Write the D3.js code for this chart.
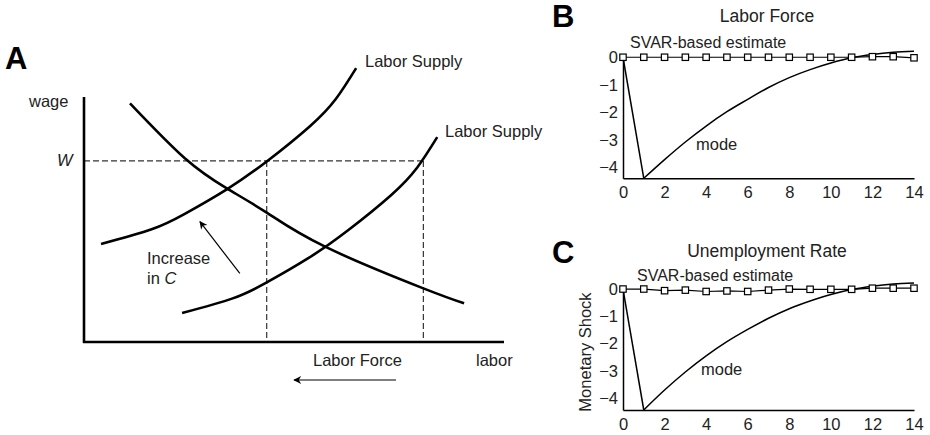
<!DOCTYPE html>
<html>
<head>
<meta charset="utf-8">
<script src="https://cdn.jsdelivr.net/npm/d3@7"></script>
<style>
  body { margin: 0; background: #fff; }
  svg { font-family: "Liberation Sans", Arial, sans-serif; }
</style>
</head>
<body>
<svg id="chart" width="930" height="435"></svg>
<script>
// Panel A: stylised labour market (units: labor 0-100, wage 0-100)
const supply1 = [[4.05, 40.0], [16.1, 46.0], [24.0, 52.3], [34.0, 62.3], [43.5, 73.7], [53.8, 88.1], [60.0, 99.3], [64.8, 111.8]];
const supply2 = [[23.35, 11.8], [35.4, 17.8], [43.3, 24.1], [53.3, 34.1], [62.8, 45.5], [73.1, 59.9], [79.3, 71.1], [84.1, 83.6]];
const demand = [[10.95, 97.4], [24.0, 75.0], [34.0, 62.7], [43.6, 52.7], [57.4, 38.9], [80.8, 21.9], [90.5, 15.8]];
const wageW = 73.9;
const laborAtW = [43.5, 80.8];

// Panels B and C: impulse responses, horizon 0..14
const horizon = d3.range(0, 15);
const modeLF = [0, -4.4, -3.72, -3.08, -2.5, -1.98, -1.53, -1.1, -0.74, -0.45, -0.21, -0.02, 0.1, 0.18, 0.22];
const svarLF = [0, 0, 0, 0, 0, 0, 0, 0, 0, 0, 0, 0, 0.02, 0.02, -0.02];
const modeUR = [0, -4.43, -3.7, -3.04, -2.45, -1.93, -1.48, -1.07, -0.72, -0.44, -0.2, -0.02, 0.1, 0.18, 0.22];
const svarUR = [0, 0, -0.06, -0.04, -0.09, -0.07, -0.09, -0.04, 0, -0.01, -0.01, -0.01, 0.03, 0.03, 0.03];
const xTicks = [0, 2, 4, 6, 8, 10, 12, 14];
const yTicks = [0, -1, -2, -3, -4];

const svg = d3.select('#chart');

svg.append('defs').append('marker')
  .attr('id', 'head')
  .attr('viewBox', '0 0 10 10')
  .attr('refX', 9).attr('refY', 5)
  .attr('markerWidth', 10).attr('markerHeight', 8)
  .attr('markerUnits', 'userSpaceOnUse')
  .attr('orient', 'auto')
  .append('path')
  .attr('d', 'M0,0 L10,5 L0,10 L3,5 Z')
  .attr('fill', '#000');

// ---------- Panel A ----------
const xA = d3.scaleLinear().domain([0, 100]).range([84, 504]);
const yA = d3.scaleLinear().domain([0, 100]).range([342, 97]);
const gA = svg.append('g');

const curveLine = d3.line()
  .x(d => xA(d[0]))
  .y(d => yA(d[1]))
  .curve(d3.curveNatural);

// dashed guides
gA.append('line')
  .attr('x1', xA(0)).attr('x2', xA(laborAtW[1]))
  .attr('y1', yA(wageW)).attr('y2', yA(wageW))
  .attr('stroke', '#333').attr('stroke-width', 1.2).attr('stroke-dasharray', '6,3');
gA.selectAll('.vdash')
  .data(laborAtW)
  .enter()
  .append('line')
  .attr('class', 'vdash')
  .attr('x1', d => xA(d)).attr('x2', d => xA(d))
  .attr('y1', yA(wageW)).attr('y2', yA(0))
  .attr('stroke', '#333').attr('stroke-width', 1.2).attr('stroke-dasharray', '6,3');

[supply1, supply2, demand].forEach(c => {
  gA.append('path')
    .attr('d', curveLine(c))
    .attr('fill', 'none')
    .attr('stroke', '#000')
    .attr('stroke-width', 2.6);
});

// axes
gA.append('line')
  .attr('x1', xA(0)).attr('x2', xA(0))
  .attr('y1', yA(100)).attr('y2', yA(0) + 1)
  .attr('stroke', '#000').attr('stroke-width', 2.6);
gA.append('line')
  .attr('x1', xA(0) - 1).attr('x2', xA(100))
  .attr('y1', yA(0)).attr('y2', yA(0))
  .attr('stroke', '#000').attr('stroke-width', 2.6);

// arrows
gA.append('line')
  .attr('x1', xA(37.1)).attr('y1', yA(28.0))
  .attr('x2', xA(27.6)).attr('y2', yA(49.1))
  .attr('stroke', '#000').attr('stroke-width', 1.2)
  .attr('marker-end', 'url(#head)');
gA.append('line')
  .attr('x1', xA(74.3)).attr('y1', yA(-15.5))
  .attr('x2', xA(50.0)).attr('y2', yA(-15.5))
  .attr('stroke', '#000').attr('stroke-width', 1.2)
  .attr('marker-end', 'url(#head)');

const txt = (g, x, y, s, size, opts = {}) => {
  const t = g.append('text')
    .attr('x', x).attr('y', y)
    .attr('font-size', size)
    .attr('fill', opts.fill || '#222')
    .attr('text-anchor', opts.anchor || 'start');
  if (opts.weight) t.attr('font-weight', opts.weight);
  if (opts.style) t.attr('font-style', opts.style);
  if (opts.transform) t.attr('transform', opts.transform);
  t.text(s);
  return t;
};

txt(svg, 5, 69, 'A', 31, { weight: 'bold', fill: '#000' });
txt(gA, 365, 67, 'Labor Supply', 16.5);
txt(gA, 445, 137, 'Labor Supply', 16.5);
txt(gA, 29, 107, 'wage', 16.5);
txt(gA, 57, 166, 'W', 16.5, { style: 'italic' });
txt(gA, 147, 264, 'Increase', 16.5);
const inC = txt(gA, 147, 284, 'in ', 16.5);
inC.append('tspan').attr('font-style', 'italic').text('C');
txt(gA, 313, 366, 'Labor Force', 16.5);
txt(gA, 476, 366, 'labor', 16.5);

// ---------- Panels B and C ----------
const x = d3.scaleLinear().domain([0, 14]).range([623, 914]);

function irfPanel(letter, title, mode, svar, yTop, yBottom, yMin, pos) {
  const y = d3.scaleLinear().domain([yMin, 0.1]).range([yBottom, yTop]);
  const g = svg.append('g');

  g.append('g')
    .attr('transform', `translate(0, ${yBottom})`)
    .call(d3.axisBottom(x).tickValues(xTicks).tickFormat(d3.format('d')).tickSize(0).tickPadding(8).tickSizeOuter(0))
    .call(a => a.selectAll('text').attr('font-size', 16.5).attr('fill', '#222').attr('font-family', null))
    .call(a => a.select('.domain').attr('stroke-width', 1.5));

  g.append('g')
    .attr('transform', `translate(${x(0)}, 0)`)
    .call(d3.axisLeft(y).tickValues(yTicks).tickFormat(d3.format('d')).tickSize(0).tickPadding(5).tickSizeOuter(0))
    .call(a => a.selectAll('text').attr('font-size', 16.5).attr('fill', '#222').attr('font-family', null))
    .call(a => a.select('.domain').attr('stroke-width', 1.5));

  const line = d3.line().x(d => x(d[0])).y(d => y(d[1]));
  const pts = horizon.map((h, i) => [h, mode[i]]);

  // jump on impact, then smooth recovery
  g.append('path')
    .attr('d', line(pts.slice(0, 2)))
    .attr('fill', 'none').attr('stroke', '#000').attr('stroke-width', 1.5);
  g.append('path')
    .attr('d', line.curve(d3.curveMonotoneX)(pts.slice(1)))
    .attr('fill', 'none').attr('stroke', '#000').attr('stroke-width', 1.5);

  const svarPts = horizon.map((h, i) => [h, svar[i]]);
  g.append('path')
    .attr('d', d3.line().x(d => x(d[0])).y(d => y(d[1]))(svarPts))
    .attr('fill', 'none').attr('stroke', '#000').attr('stroke-width', 1.2);
  g.selectAll('.sq')
    .data(svarPts)
    .enter()
    .append('rect')
    .attr('class', 'sq')
    .attr('x', d => x(d[0]) - 3.2)
    .attr('y', d => y(d[1]) - 3.2)
    .attr('width', 6.4).attr('height', 6.4)
    .attr('fill', '#fff').attr('stroke', '#000').attr('stroke-width', 1.2);

  txt(svg, 552, pos.letterY, letter, 31, { weight: 'bold', fill: '#000' });
  txt(g, 767, pos.titleY, title, 17.5, { anchor: 'middle' });
  txt(g, pos.svarX, pos.svarY, 'SVAR-based estimate', 16);
  txt(g, pos.modeX, pos.modeY, 'mode', 16.5);
  return y;
}

irfPanel('B', 'Labor Force', modeLF, svarLF, 54.5, 178.3, -4.4,
  { letterY: 27, titleY: 22, svarX: 630, svarY: 48, modeX: 696, modeY: 150 });
irfPanel('C', 'Unemployment Rate', modeUR, svarUR, 286.3, 410, -4.43,
  { letterY: 263, titleY: 257, svarX: 637, svarY: 281, modeX: 701, modeY: 375 });

txt(svg, 591, 352, 'Monetary Shock', 16.5, { anchor: 'middle', transform: 'rotate(-90, 591, 352)' });
</script>
</body>
</html>
